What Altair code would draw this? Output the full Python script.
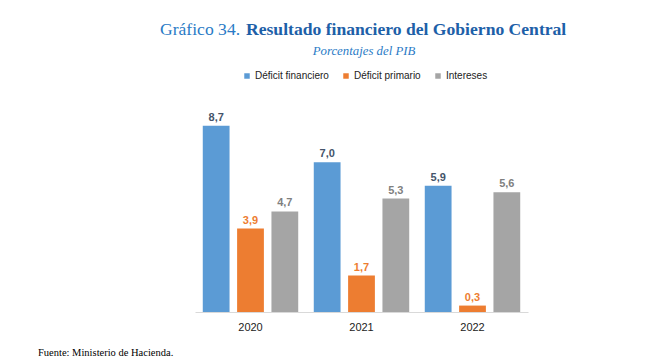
import altair as alt
import pandas as pd

years = ["2020", "2021", "2022"]
series = ["Déficit financiero", "Déficit primario", "Intereses"]
deficit_financiero = [8.7, 7.0, 5.9]
deficit_primario = [3.9, 1.7, 0.3]
intereses = [4.7, 5.3, 5.6]
colors = ["#5B9BD5", "#ED7D31", "#A5A5A5"]
label_colors = ["#44546A", "#ED7D31", "#7F7F7F"]

rows = []
for i, y in enumerate(years):
    for s, vals in zip(series, [deficit_financiero, deficit_primario, intereses]):
        rows.append({"year": y, "serie": s, "value": vals[i]})
df = pd.DataFrame(rows)

W, H = 333, 214

x = alt.X("year:N", title=None, sort=years,
          scale=alt.Scale(paddingInner=0.14, paddingOuter=0.07),
          axis=alt.Axis(labelAngle=0, labelFont="Liberation Sans", labelFontSize=11,
                        labelColor="#222222", labelPadding=9, ticks=False,
                        domainColor="#D9D9D9", domainWidth=1))
xo = alt.XOffset("serie:N", sort=series,
                 scale=alt.Scale(paddingInner=0.22, paddingOuter=0))
y = alt.Y("value:Q", scale=alt.Scale(domain=[0, 10], nice=False), axis=None)

base = alt.Chart(df)

bars = base.mark_bar().encode(
    x=x, xOffset=xo, y=y,
    color=alt.Color("serie:N", sort=series,
                    scale=alt.Scale(domain=series, range=colors),
                    legend=alt.Legend(title=None, orient="none", direction="horizontal",
                                      legendX=47, legendY=-27, symbolType="square",
                                      symbolSize=30, labelFont="Liberation Sans",
                                      labelFontSize=10, labelColor="#222222",
                                      columnPadding=12, labelOffset=3,
                                      symbolStrokeWidth=0)),
)

labels = base.mark_text(dy=-8, font="Liberation Sans", fontWeight="bold", fontSize=11).transform_calculate(
    label="replace(format(datum.value, '.1f'), '.', ',')"
).encode(
    x=alt.X("year:N", sort=years), xOffset=alt.XOffset("serie:N", sort=series),
    y="value:Q",
    text="label:N",
    color=alt.Color("serie:N", sort=series,
                    scale=alt.Scale(domain=series, range=label_colors), legend=None),
)

title1 = alt.Chart(pd.DataFrame({"t": ["Gráfico 34."]})).mark_text(
    align="left", baseline="alphabetic", font="Liberation Serif", fontSize=17.6,
    color="#2A7BC6").encode(text="t:N", x=alt.value(-35), y=alt.value(-63))
title2 = alt.Chart(pd.DataFrame({"t": ["Resultado financiero del Gobierno Central"]})).mark_text(
    align="left", baseline="alphabetic", font="Liberation Serif", fontSize=17.6,
    fontWeight="bold", color="#1D60A8").encode(text="t:N", x=alt.value(51), y=alt.value(-63))
subtitle = alt.Chart(pd.DataFrame({"t": ["Porcentajes del PIB"]})).mark_text(
    align="center", baseline="alphabetic", font="Liberation Serif", fontSize=12.8,
    fontStyle="italic", color="#2A7BC6").encode(text="t:N", x=alt.value(169), y=alt.value(-43))
source = alt.Chart(pd.DataFrame({"t": ["Fuente: Ministerio de Hacienda."]})).mark_text(
    align="left", baseline="alphabetic", font="Liberation Serif", fontSize=10.5,
    color="#000000").encode(text="t:N", x=alt.value(-157), y=alt.value(258))

chart = alt.layer(bars, labels, title1, title2, subtitle, source).resolve_scale(
    color="independent"
).properties(
    width=W, height=H,
    autosize=alt.AutoSizeParams(type="none"),
    padding={"left": 187, "top": 90, "right": 109, "bottom": 47},
).configure(background="white").configure_view(stroke=None)

chart.save("out.html", embed_options={"renderer": "svg", "actions": False})
